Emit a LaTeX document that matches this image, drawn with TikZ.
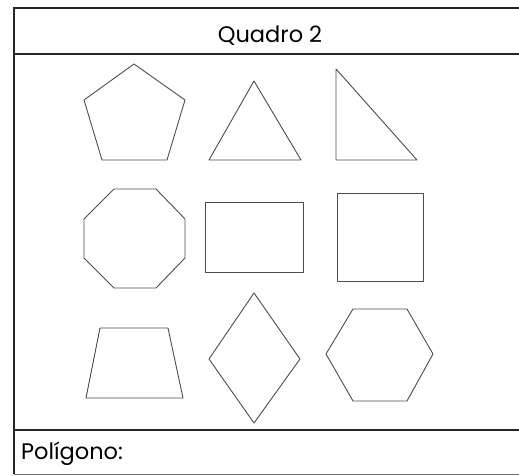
\documentclass[tikz,border=0pt]{standalone}
\usepackage{fontspec}
\setmainfont{Poppins}
\usepackage{tikz}
\usetikzlibrary{positioning}

\begin{document}
\begin{tikzpicture}[x=1pt,y=-1pt,
  frame/.style={line width=1.8pt,black!85},
  poly/.style={line width=0.9pt,black!70,line join=round},
  title/.style={font=\fontsize{22.5}{27}\selectfont,inner sep=0pt,anchor=base}]
  \useasboundingbox (0,0) rectangle (519,476);
  % frame
  \draw[frame] (519,8) -- (14,8) -- (14,474);
  \draw[frame] (14,54) -- (519,54);
  \draw[frame] (14,430) -- (519,430);
  \draw[line width=1pt,black!55] (14,474) -- (519,474);
  \node[title] (head) at (270,43) {Quadro 2};
  \node[title,anchor=base west] (foot) at (21,459) {Polígono:};
  % first row
  \draw[poly] (134,64) -- (185,100) -- (167,160) -- (102,160) -- (84,100) -- cycle;
  \draw[poly] (254,81) -- (301,160) -- (209,160) -- cycle;
  \draw[poly] (336,69) -- (417,160) -- (336,160) -- cycle;
  % second row
  \draw[poly] (114,189) -- (156,189) -- (185,219) -- (185,258) -- (156,288)
    -- (114,288) -- (84,258) -- (84,219) -- cycle;
  \draw[poly] (205,202) rectangle (303,272);
  \draw[poly] (337,193) rectangle (423,281);
  % third row
  \draw[poly] (100,328) -- (168,328) -- (183,398) -- (86,398) -- cycle;
  \draw[poly] (254,293) -- (300,359) -- (254,423) -- (209,359) -- cycle;
  \draw[poly] (353,309) -- (407,309) -- (433,354) -- (407,401) -- (353,401)
    -- (326,354) -- cycle;
\end{tikzpicture}
\end{document}
